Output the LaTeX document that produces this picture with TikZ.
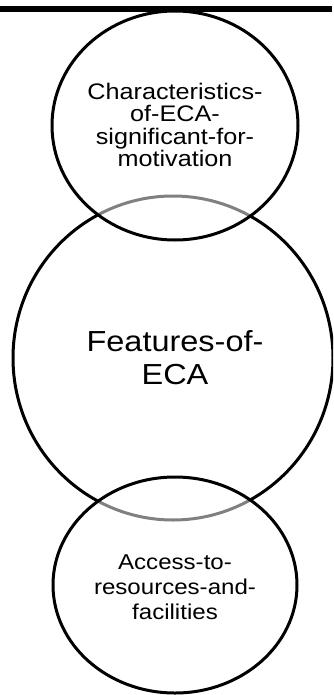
\documentclass[tikz,border=0pt]{standalone}
\usepackage{fontspec}
\newfontfamily\bubblefont[FakeStretch=1.12]{Liberation Sans}
\usetikzlibrary{positioning}

\begin{document}
\begin{tikzpicture}[
        x=1pt, y=-1pt,
        burbuja/.style={
            draw=black,
            line width=3pt,
            fill=white
        },
        encima/.style={
            burbuja,
            fill opacity=0.5
        },
        texto/.style={
            align=center,
            inner sep=0pt,
            text=black
        }
    ]
        \useasboundingbox (0,0) rectangle (333,695);
        \clip (0,0) rectangle (333,695);

        \draw[line width=6pt] (0,9) -- (332,9);

        \path[burbuja] (173,358) ellipse [x radius=160, y radius=162];
        \path[encima] (175,125.5) ellipse [x radius=123, y radius=114.5];
        \path[encima] (175,585) ellipse [x radius=122, y radius=108];

        \node[texto, font=\bubblefont\fontsize{22.5}{22.3}\selectfont] (caracteristicas) at (175,125) {
            Characteristics-\\
            of-ECA-\\
            significant-for-\\
            motivation
        };
        \node[texto, font=\bubblefont\fontsize{29}{33}\selectfont] (rasgos) at (175,358) {
            Features-of-\\
            ECA
        };
        \node[texto, font=\bubblefont\fontsize{21.5}{25}\selectfont] (acceso) at (175,587) {
            Access-to-\\
            resources-and-\\
            facilities
        };
    \end{tikzpicture}
\end{document}
